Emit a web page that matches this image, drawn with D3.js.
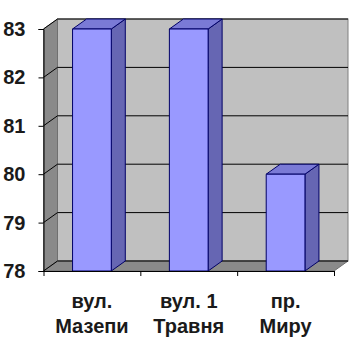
<!DOCTYPE html>
<html><head><meta charset="utf-8">
<script src="https://cdn.jsdelivr.net/npm/d3@7"></script>
<style>body{margin:0;background:#fff}svg{display:block}</style>
</head><body>
<script>
const categories = [["вул.", "Мазепи"], ["вул. 1", "Травня"], ["пр.", "Миру"]];
const values = [83, 83, 80];
const yTicks = [78, 79, 80, 81, 82, 83];

const W = 350, H = 350;
const x0 = 43.5, x1 = 334, yBottom = 271, yTop = 29;
const dx = 14, dy = 10;

const svg = d3.select("body").append("svg").attr("width", W).attr("height", H);
const y = d3.scaleLinear().domain([78, 83]).range([yBottom, yTop]);
const xCat = d3.scaleBand().domain(d3.range(categories.length)).range([x0, x1]).padding(0);
const xBar = d3.scaleBand().domain(d3.range(categories.length)).range([x0, x1]).paddingInner(0.6).paddingOuter(0.3);

// back wall
svg.append("rect").attr("x", x0 + dx).attr("y", yTop - dy).attr("width", x1 - x0).attr("height", yBottom - yTop)
  .attr("fill", "#c0c0c0").attr("stroke", "#808080").attr("stroke-width", 1);
// left wall
svg.append("path").attr("d", `M${x0},${yTop}L${x0+dx},${yTop-dy}L${x0+dx},${yBottom-dy}L${x0},${yBottom}Z`)
  .attr("fill", "#8a8a8a").attr("stroke", "#707070");
// floor
svg.append("path").attr("d", `M${x0},${yBottom}L${x0+dx},${yBottom-dy}L${x1+dx},${yBottom-dy}L${x1},${yBottom}Z`)
  .attr("fill", "#8a8a8a").attr("stroke", "#707070");

// gridlines
yTicks.forEach(v => {
  const yy = y(v);
  svg.append("path").attr("d", `M${x0},${yy}L${x0+dx},${yy-dy}L${x1+dx},${yy-dy}`)
    .attr("fill", "none").attr("stroke", "#000").attr("stroke-width", 1);
});

// bars
values.forEach((v, i) => {
  const bx = xBar(i), bw = xBar.bandwidth(), ty = y(v), by = y(78);
  const g = svg.append("g").attr("stroke", "#000066").attr("stroke-width", 1).attr("stroke-linejoin", "round");
  g.append("path").attr("d", `M${bx+bw},${ty}L${bx+bw+dx},${ty-dy}L${bx+bw+dx},${by-dy}L${bx+bw},${by}Z`).attr("fill", "#6666b3");
  g.append("path").attr("d", `M${bx},${ty}L${bx+dx},${ty-dy}L${bx+bw+dx},${ty-dy}L${bx+bw},${ty}Z`).attr("fill", "#7a7ad6");
  g.append("rect").attr("x", bx).attr("y", ty).attr("width", bw).attr("height", by - ty).attr("fill", "#9999ff");
});

// axes
const yAxis = d3.axisLeft(y).tickValues(yTicks).tickFormat(d3.format("d")).tickSize(5).tickPadding(13);
const ga = svg.append("g").attr("transform", `translate(${x0},0)`).call(yAxis);
ga.select(".domain").attr("stroke", "#000");
ga.selectAll("text").attr("font-family", "Liberation Sans, Arial, sans-serif").attr("font-size", 20).attr("font-weight", "bold").attr("fill", "#1a1a1a");

const xs = d3.scaleLinear().domain([0, categories.length]).range([x0, x1]);
const xAxis = d3.axisBottom(xs).tickValues(d3.range(categories.length + 1)).tickFormat("").tickSize(5).tickSizeOuter(0);
const gx = svg.append("g").attr("transform", `translate(0,${yBottom})`).call(xAxis);
gx.select(".domain").attr("stroke", "#000");

categories.forEach((lines, i) => {
  const cx = xCat(i) + xCat.bandwidth() / 2;
  const t = svg.append("text").attr("x", cx).attr("text-anchor", "middle")
    .attr("font-family", "Liberation Sans, Arial, sans-serif").attr("font-size", 20).attr("font-weight", "bold").attr("fill", "#1a1a1a");
  lines.forEach((l, j) => t.append("tspan").attr("x", cx).attr("y", 308 + j * 25).text(l));
});
</script>
</body></html>
